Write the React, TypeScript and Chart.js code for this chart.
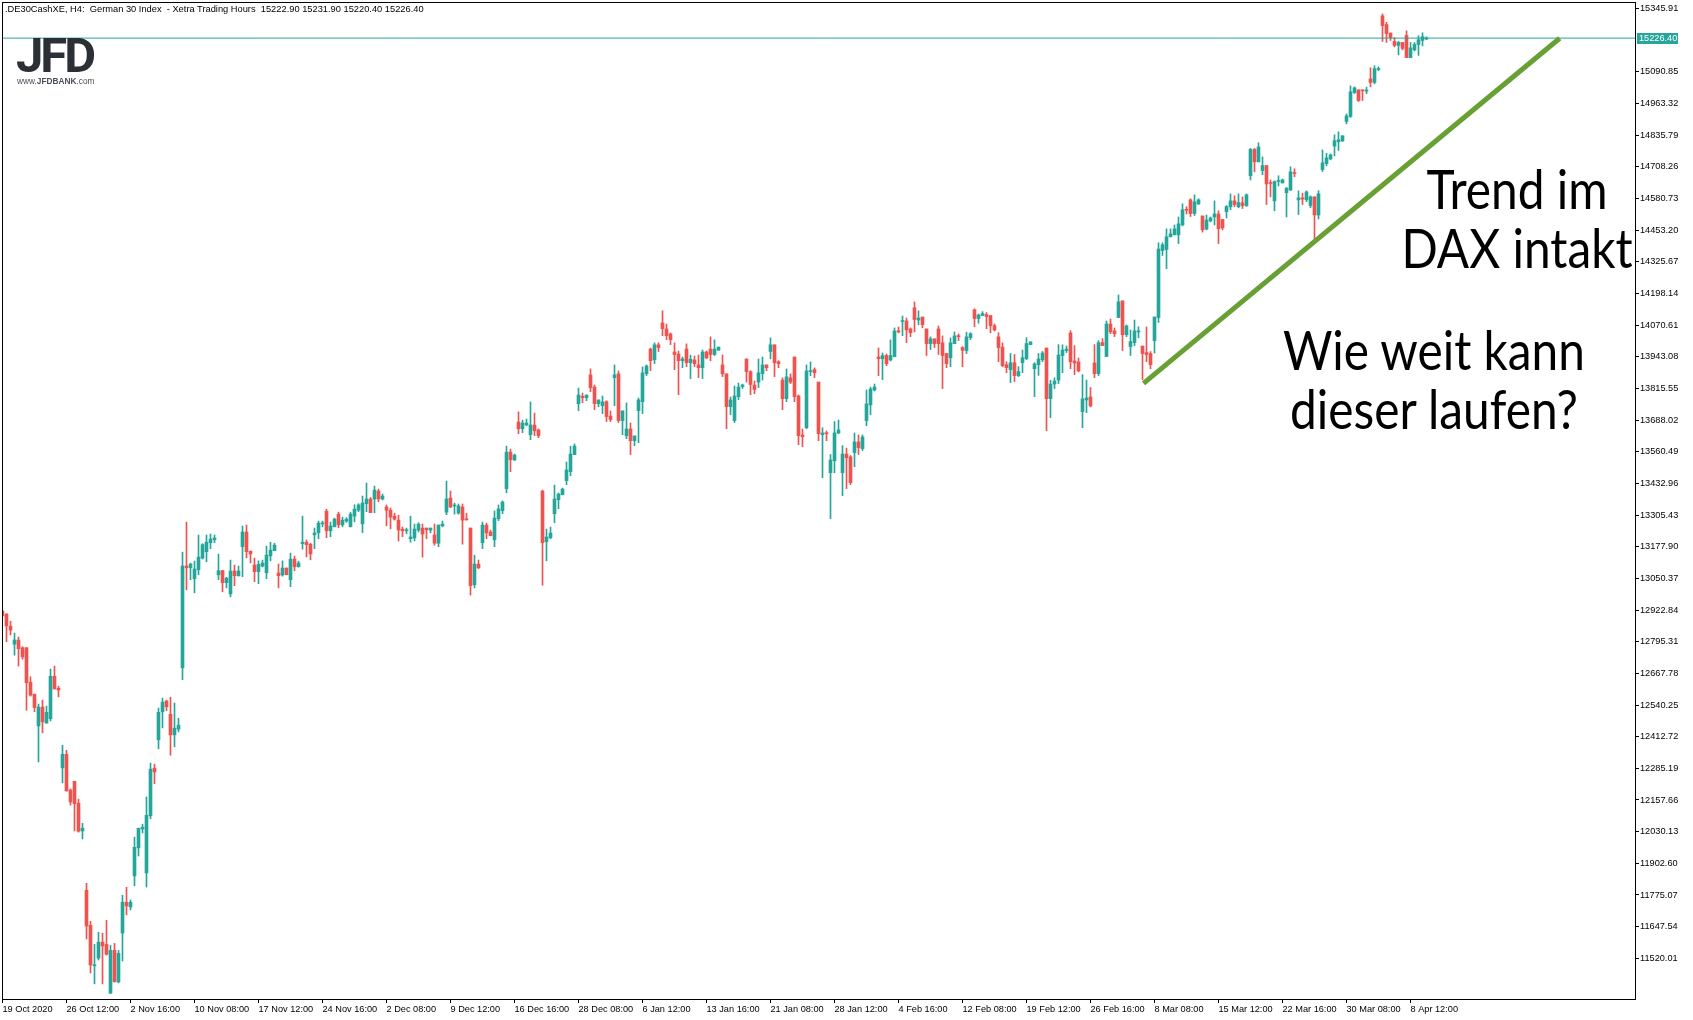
import React, { useEffect, useRef } from "react";
import { Chart, registerables } from "chart.js";

Chart.register(...registerables);

// ---- data (H4 candles, 19 Oct 2020 08:00 .. 9 Apr 2021 16:00) ----
const opens = [
  12918,12906,12858,12785,12802,12771,12771,12632,12584,12456,
  12532,12468,12485,12656,12608,12287,12342,12198,12233,12145,
  12033,11794,11653,11490,11521,11585,11576,11380,11552,11425,
  11622,11746,11727,11852,11965,12041,11864,12094,12286,12400,
  12513,12556,12503,12420,12443,12690,13100,13093,13049,13085,
  13132,13158,13194,13206,13065,13082,13033,12988,13080,13061,
  13178,13237,13160,13104,13077,13100,13073,13141,13162,13072,
  13064,13092,13045,13128,13097,13190,13196,13188,13226,13234,
  13270,13321,13242,13258,13309,13266,13281,13258,13301,13325,
  13270,13351,13370,13370,13402,13370,13338,13325,13301,13285,
  13249,13242,13210,13213,13245,13253,13253,13245,13225,13192,
  13262,13317,13374,13342,13313,13338,13289,13253,13025,13108,
  13194,13265,13237,13206,13291,13323,13412,13559,13528,13680,
  13653,13669,13629,13668,13648,13402,13198,13214,13311,13367,
  13387,13444,13480,13549,13754,13784,13778,13870,13821,13754,
  13746,13762,13704,13859,13874,13686,13625,13652,13605,13726,
  13762,13875,13974,13931,13991,14079,14055,14035,13962,13954,
  13927,13974,13919,13930,13910,13899,13962,13974,13952,13970,
  13910,13874,13742,13686,13782,13823,13934,13883,13829,13841,
  13875,13910,13964,13991,13923,13849,13774,13858,13942,13785,
  13628,13657,13883,13891,13841,13629,13636,13476,13524,13636,
  13476,13551,13540,13557,13600,13573,13686,13749,13809,13942,
  13935,13948,13930,13943,14047,14085,14087,14055,14140,14091,
  14103,14055,13996,14015,14055,13999,13956,13939,13996,14027,
  13980,13968,14020,14132,14097,14109,14113,14109,14068,14023,
  13982,13911,13891,13919,13867,13919,13935,13992,13895,13911,
  13931,13978,13774,13833,13849,13948,13968,14039,13926,13922,
  13722,13769,13781,13918,13875,14000,13944,14075,14047,14101,
  14168,14032,13984,14000,14043,13986,13960,13956,14008,14101,
  14371,14375,14426,14434,14434,14474,14536,14575,14520,14559,
  14510,14457,14490,14506,14518,14496,14527,14547,14571,14547,
  14563,14552,14672,14778,14728,14693,14713,14645,14571,14649,
  14643,14604,14615,14684,14575,14583,14575,14552,14587,14514,
  14697,14721,14740,14792,14809,14813,14891,14911,15007,15018,
  15018,15013,15062,15048,15100,15316,15281,15247,15213,15197,
  15209,15237,15148,15179,15201,15217,15222.9,
];
const highs = [
  12923,12909,12878,12830,12814,12775,12771,12654,12584,12544,
  12560,12536,12685,12697,12616,12378,12358,12202,12233,12161,
  12064,11822,11669,11576,11625,11621,11673,11572,11580,11552,
  11774,11806,11755,12008,12044,12060,12170,12306,12302,12528,
  12568,12560,12572,12548,12487,13156,13277,13112,13120,13225,
  13190,13225,13229,13225,13148,13082,13055,13124,13104,13100,
  13261,13265,13160,13132,13121,13124,13180,13196,13192,13108,
  13121,13092,13152,13140,13120,13301,13205,13192,13253,13281,
  13281,13329,13277,13293,13317,13297,13295,13317,13347,13351,
  13382,13434,13376,13422,13410,13390,13346,13334,13313,13305,
  13257,13253,13301,13269,13274,13269,13253,13253,13269,13265,
  13281,13442,13402,13354,13350,13350,13313,13253,13144,13124,
  13277,13273,13245,13322,13346,13362,13583,13571,13551,13721,
  13688,13692,13761,13716,13652,13406,13249,13257,13426,13394,
  13414,13519,13583,13592,13817,13797,13789,13894,13829,13769,
  13785,13766,13725,13910,13886,13725,13757,13676,13624,13777,
  13902,13910,13978,13999,13999,14128,14075,14039,13999,13966,
  13942,13995,13950,13946,13950,13970,13966,14023,14011,13982,
  13950,13874,13781,13825,13837,13833,13934,13887,13845,13934,
  13942,13910,14019,13991,13927,13858,13894,13874,13942,13789,
  13652,13910,13922,13898,13841,13657,13644,13549,13682,13688,
  13585,13575,13545,13636,13628,13628,13809,13821,13833,13978,
  13958,13954,14011,14059,14063,14107,14099,14059,14164,14128,
  14103,14055,14023,14015,14067,14027,13956,14019,14043,14035,
  13984,14042,14040,14136,14115,14125,14121,14109,14075,14040,
  13999,13923,13956,13952,13903,13970,14020,14003,13919,13956,
  13964,13978,13848,13858,13992,13991,13986,14048,13988,13938,
  13871,13849,13819,13992,14008,14016,14087,14095,14059,14192,
  14168,14071,14051,14091,14064,13986,14063,13964,14103,14402,
  14402,14458,14458,14474,14506,14559,14547,14579,14595,14579,
  14510,14514,14506,14571,14531,14496,14552,14599,14591,14599,
  14587,14599,14782,14782,14805,14748,14713,14655,14651,14672,
  14659,14625,14708,14700,14611,14602,14611,14591,14587,14612,
  14776,14762,14760,14837,14849,14833,14921,15034,15030,15018,
  15018,15029,15107,15115,15111,15324,15290,15247,15228,15213,
  15209,15256,15209,15209,15236,15248,15231.9,
];
const lows = [
  12896,12795,12822,12741,12697,12725,12519,12576,12513,12311,
  12428,12466,12476,12605,12573,12227,12194,12137,12033,12028,
  12001,11598,11461,11417,11513,11417,11533,11378,11425,11421,
  11509,11695,11715,11812,11932,12025,11807,12082,12223,12364,
  12448,12517,12338,12372,12432,12642,13004,13045,12992,13065,
  13128,13117,13170,13194,13045,12996,13012,12976,13021,13059,
  13057,13133,13113,13037,13029,13096,13049,13121,13162,13012,
  13059,13065,13017,13081,13096,13168,13137,13125,13170,13210,
  13258,13214,13218,13258,13254,13258,13276,13258,13278,13319,
  13234,13319,13315,13315,13359,13366,13262,13250,13285,13201,
  13218,13230,13196,13201,13237,13136,13210,13234,13184,13178,
  13258,13307,13335,13309,13309,13188,13285,12983,13012,13089,
  13170,13210,13222,13178,13283,13311,13395,13480,13524,13633,
  13637,13665,13609,13625,13617,13023,13121,13210,13275,13331,
  13387,13428,13464,13549,13726,13758,13766,13802,13730,13742,
  13714,13682,13682,13746,13678,13629,13613,13549,13585,13597,
  13714,13867,13887,13915,13964,14028,14012,13992,13891,13790,
  13899,13903,13855,13903,13859,13855,13935,13927,13948,13968,
  13863,13653,13710,13678,13770,13815,13841,13790,13794,13819,
  13849,13887,13935,13863,13899,13730,13762,13835,13762,13589,
  13581,13653,13867,13859,13605,13456,13605,13291,13476,13633,
  13383,13412,13428,13500,13549,13565,13665,13710,13805,13867,
  13851,13907,13926,13943,14039,14028,14000,14024,14043,14072,
  14060,13948,13972,13980,13952,13815,13899,13903,13996,14008,
  13903,13956,14012,14064,14078,14109,14056,14040,14047,13923,
  13903,13879,13839,13843,13863,13879,13931,13991,13782,13868,
  13923,13645,13698,13815,13835,13879,13960,13895,13871,13882,
  13657,13718,13741,13859,13867,13988,13944,14036,14024,14101,
  13968,14024,13948,13988,14020,13851,13923,13895,13958,14081,
  14351,14298,14426,14434,14399,14470,14518,14508,14512,14556,
  14445,14454,14486,14474,14399,14454,14502,14535,14547,14543,
  14540,14548,14655,14688,14728,14676,14556,14587,14531,14631,
  14643,14506,14612,14668,14516,14556,14568,14543,14414,14498,
  14689,14712,14736,14752,14774,14809,14881,14907,15003,14971,
  14975,15003,15030,15042,15095,15213,15209,15217,15191,15159,
  15179,15148,15148,15175,15157,15195,15220.4,
];
const closes = [
  12900,12859,12842,12802,12767,12734,12630,12580,12530,12532,
  12472,12511,12656,12605,12601,12342,12194,12150,12143,12032,
  12044,11650,11493,11493,11585,11570,11536,11552,11425,11540,
  11746,11731,11746,11967,12044,12048,12096,12282,12271,12511,
  12552,12533,12420,12447,12459,13100,13093,13108,13088,13136,
  13186,13196,13209,13213,13081,13033,13051,13080,13061,13080,
  13237,13158,13149,13077,13107,13112,13144,13164,13184,13061,
  13092,13065,13128,13097,13112,13196,13186,13149,13233,13273,
  13274,13242,13261,13289,13266,13285,13289,13309,13329,13346,
  13354,13370,13315,13406,13370,13382,13325,13297,13289,13245,
  13242,13246,13217,13249,13269,13229,13246,13253,13192,13265,
  13269,13370,13338,13346,13342,13285,13286,13021,13108,13093,
  13265,13234,13222,13293,13330,13358,13559,13528,13547,13653,
  13676,13676,13668,13645,13625,13194,13217,13233,13370,13390,
  13410,13487,13551,13583,13789,13778,13789,13819,13754,13769,
  13761,13702,13690,13870,13686,13725,13652,13605,13624,13769,
  13878,13906,13927,13991,13980,14056,14028,14012,13952,13927,
  13934,13919,13933,13915,13899,13962,13939,13952,13974,13982,
  13874,13742,13769,13785,13821,13829,13883,13831,13811,13878,
  13910,13899,13991,13919,13915,13774,13862,13841,13782,13625,
  13621,13886,13887,13879,13633,13636,13633,13527,13636,13648,
  13551,13536,13436,13600,13577,13620,13753,13813,13821,13935,
  13948,13915,13948,14047,14043,14087,14051,14040,14093,14099,
  14072,13996,14015,13996,13996,13948,13915,13999,14027,14024,
  13969,14023,14036,14097,14111,14117,14105,14068,14051,13980,
  13907,13899,13919,13867,13883,13939,13996,14003,13914,13934,
  13958,13774,13833,13845,13950,13970,13974,13923,13918,13886,
  13773,13777,13745,13875,14000,13988,14075,14043,14036,14164,
  14032,14067,14004,14047,14047,13956,13952,13911,14103,14377,
  14394,14426,14438,14458,14478,14535,14533,14520,14567,14575,
  14454,14494,14502,14518,14459,14462,14548,14571,14556,14564,
  14552,14595,14778,14728,14788,14713,14639,14641,14649,14651,
  14655,14621,14688,14681,14583,14578,14607,14587,14514,14599,
  14724,14744,14756,14813,14817,14833,14913,15010,15026,14975,
  15014,15015,15048,15103,15103,15277,15245,15228,15197,15209,
  15185,15148,15187,15201,15220,15232,15226.4,
];

const xTickIndex = [0,16,32,48,64,80,96,112,128,144,160,176,192,208,224,240,256,272,288,304,320,336,352];
const xTickLabels = [
  "19 Oct 2020","26 Oct 12:00","2 Nov 16:00","10 Nov 08:00","17 Nov 12:00","24 Nov 16:00",
  "2 Dec 08:00","9 Dec 12:00","16 Dec 16:00","28 Dec 08:00","6 Jan 12:00","13 Jan 16:00",
  "21 Jan 08:00","28 Jan 12:00","4 Feb 16:00","12 Feb 08:00","19 Feb 12:00","26 Feb 16:00",
  "8 Mar 08:00","15 Mar 12:00","22 Mar 16:00","30 Mar 08:00","8 Apr 12:00",
];
const yTickValues = [
  11520.01,11647.54,11775.07,11902.60,12030.13,12157.66,12285.19,12412.72,12540.25,12667.78,
  12795.31,12922.84,13050.37,13177.90,13305.43,13432.96,13560.49,13688.02,13815.55,13943.08,
  14070.61,14198.14,14325.67,14453.20,14580.73,14708.26,14835.79,14963.32,15090.85,15345.91,
];
const lastPrice = 15226.40;
const trendX = [285.25, 389.3];
const trendY = [13836, 15226];

const Y_MIN = 11356.1;
const Y_MAX = 15371.9;
const X_MIN = -0.125;
const X_MAX = 408.125;

const UP = "#26a69a";
const DOWN = "#ef5350";
const TICK_FONT = { family: "'Liberation Sans', Arial, sans-serif", size: 9.2 };

const framePlugin = {
  id: "frame",
  afterDraw(chart: any) {
    const { ctx, chartArea, scales } = chart;
    ctx.save();
    ctx.strokeStyle = "#000";
    ctx.lineWidth = 1;
    ctx.strokeRect(chartArea.left + 0.5, chartArea.top + 0.5, chartArea.right - chartArea.left, chartArea.bottom - chartArea.top);
    const py = Math.round(scales.y.getPixelForValue(lastPrice));
    ctx.fillStyle = UP;
    ctx.fillRect(chartArea.right + 2, py - 5, 41, 11);
    ctx.fillStyle = "#fff";
    ctx.font = "9.2px 'Liberation Sans', Arial, sans-serif";
    ctx.textBaseline = "middle";
    ctx.textAlign = "left";
    ctx.fillText(lastPrice.toFixed(2), chartArea.right + 4, py + 0.5);
    ctx.restore();
  },
};

export default function App() {
  const ref = useRef<HTMLCanvasElement | null>(null);

  useEffect(() => {
    if (!ref.current) return;
    const idx = opens.map((_, i) => i);
    const colors = idx.map((i) => (closes[i] >= opens[i] ? UP : DOWN));
    const chart = new Chart(ref.current, {
      type: "bar",
      data: {
        datasets: [
          {
            type: "line",
            label: "trend",
            data: trendX.map((x, i) => ({ x, y: trendY[i] })),
            borderColor: "#68a034",
            borderWidth: 5,
            borderCapStyle: "butt",
            pointRadius: 0,
            order: 0,
          } as any,
          {
            type: "line",
            label: "price",
            data: [
              { x: X_MIN, y: lastPrice },
              { x: X_MAX, y: lastPrice },
            ],
            borderColor: UP,
            borderWidth: 1,
            pointRadius: 0,
            order: 1,
          } as any,
          {
            label: "body",
            data: idx.map((i) => ({ x: i, y: [opens[i], closes[i]] })),
            backgroundColor: colors,
            borderWidth: 0,
            grouped: false,
            maxBarThickness: 3,
            barPercentage: 1,
            categoryPercentage: 1,
            minBarLength: 1,
            order: 2,
          } as any,
          {
            label: "wick",
            data: idx.map((i) => ({ x: i, y: [lows[i], highs[i]] })),
            backgroundColor: colors,
            borderWidth: 0,
            grouped: false,
            maxBarThickness: 1,
            barPercentage: 1,
            categoryPercentage: 1,
            order: 3,
          } as any,
        ],
      },
      options: {
        responsive: false,
        animation: false,
        devicePixelRatio: 1,
        events: [],
        layout: { padding: { left: 2, top: 2, right: 0, bottom: 0 } },
        plugins: { legend: { display: false }, tooltip: { enabled: false }, title: { display: false } },
        scales: {
          x: {
            type: "linear",
            min: X_MIN,
            max: X_MAX,
            bounds: "data",
            offset: false,
            grid: { display: true, drawOnChartArea: false, drawTicks: true, tickLength: 4, color: "#000", offset: false },
            border: { display: true, color: "#000", width: 1 },
            ticks: {
              autoSkip: false,
              maxRotation: 0,
              minRotation: 0,
              align: "start",
              padding: 1,
              color: "#000",
              font: TICK_FONT,
              callback: (_v: any, i: number) => xTickLabels[i] ?? "",
            },
            afterBuildTicks: (s: any) => {
              s.ticks = xTickIndex.map((v) => ({ value: v }));
            },
            afterFit: (s: any) => {
              s.height = 21;
              s.paddingLeft = 0;
              s.paddingRight = 0;
            },
          } as any,
          y: {
            type: "linear",
            position: "right",
            min: Y_MIN,
            max: Y_MAX,
            bounds: "data",
            beginAtZero: false,
            grid: { display: true, drawOnChartArea: false, drawTicks: true, tickLength: 4, color: "#000" },
            border: { display: true, color: "#000", width: 1 },
            ticks: {
              autoSkip: false,
              padding: 1,
              color: "#000",
              font: TICK_FONT,
              callback: (v: any) => Number(v).toFixed(2),
            },
            afterBuildTicks: (s: any) => {
              s.ticks = yTickValues.map((v) => ({ value: v }));
            },
            afterFit: (s: any) => {
              s.width = 58;
              s.paddingTop = 0;
              s.paddingBottom = 0;
            },
          } as any,
        },
      },
      plugins: [framePlugin],
    });
    return () => chart.destroy();
  }, []);

  const abs: React.CSSProperties = { position: "absolute", pointerEvents: "none", whiteSpace: "pre" };
  const note: React.CSSProperties = {
    ...abs,
    width: 400,
    textAlign: "center",
    font: "54px Lato, sans-serif",
    lineHeight: "59px",
    color: "#000",
    transform: "scaleX(0.885)",
    transformOrigin: "50% 50%",
  };

  return (
    <div style={{ position: "fixed", left: 0, top: 0, width: 1693, height: 1020, background: "#fff", overflow: "hidden" }}>
      <canvas ref={ref} width={1693} height={1020} style={{ display: "block", width: 1693, height: 1020 }} />
      <div style={{ ...abs, left: 5, top: 4, font: "9.3px 'Liberation Sans', Arial, sans-serif", lineHeight: "11px", color: "#000" }}>
        {".DE30CashXE, H4:  German 30 Index  - Xetra Trading Hours  15222.90 15231.90 15220.40 15226.40"}
      </div>
      <div style={{ ...abs, left: 16, top: 31, font: "700 49px Roboto, sans-serif", lineHeight: "50px", letterSpacing: "-3px", color: "#2b2f36" }}>
        JFD
      </div>
      <div style={{ ...abs, left: 17, top: 76, font: "8.3px 'Liberation Sans', Arial, sans-serif", lineHeight: "10px", color: "#4a4f57" }}>
        www.<b>JFDBANK</b>.com
      </div>
      <div style={{ ...note, left: 1317, top: 159 }}>
        {"Trend im\nDAX intakt"}
      </div>
      <div style={{ ...note, left: 1234, top: 320 }}>
        {"Wie weit kann\ndieser laufen?"}
      </div>
    </div>
  );
}
